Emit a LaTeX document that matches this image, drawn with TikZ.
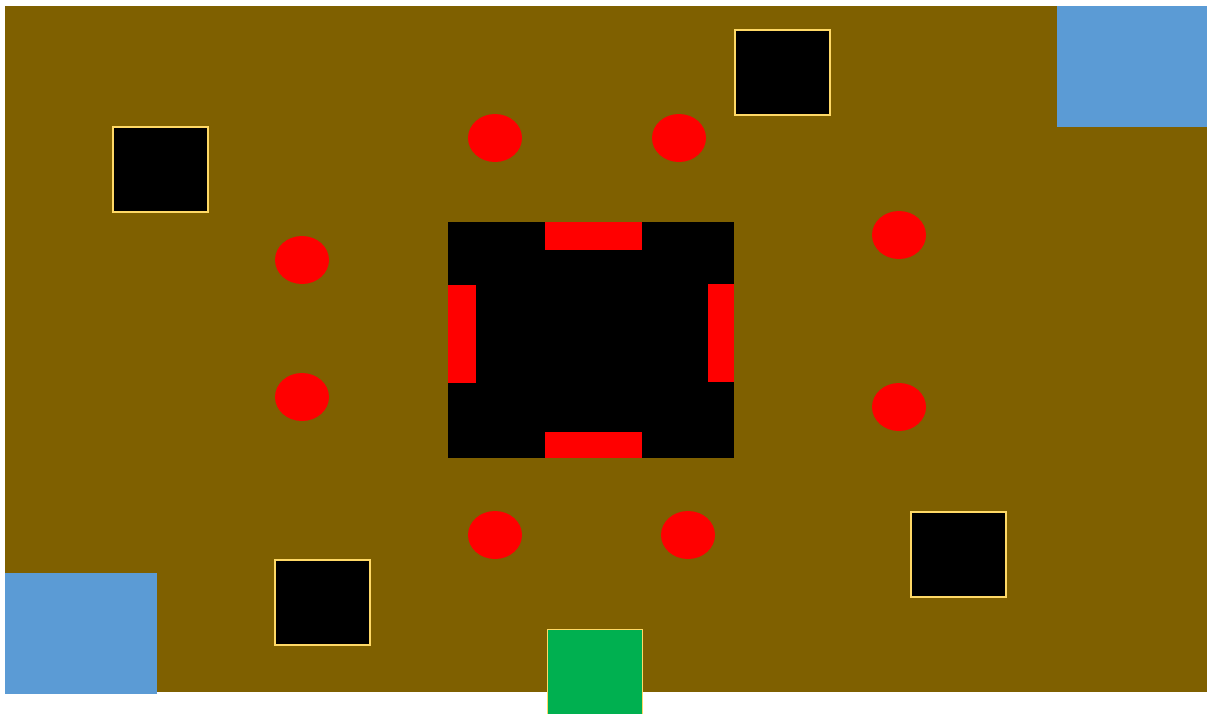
\documentclass[tikz,border=0pt]{standalone}
\definecolor{ground}{HTML}{7F6000}
\definecolor{bluezone}{HTML}{5B9BD5}
\definecolor{greenzone}{HTML}{00B050}
\definecolor{edge}{HTML}{FFD966}
\begin{document}
\begin{tikzpicture}[x=1pt,y=-1pt,
  blk/.style={fill=black,draw=edge,line width=1.2pt},
  dot/.style={fill=red,draw=none},
  bar/.style={fill=red,draw=none}]
\useasboundingbox[fill=white] (0,0) rectangle (1207,713);
% ground
\fill[ground] (5,6) rectangle (1207,692);
% blue corner zones
\fill[bluezone] (1057,6) rectangle (1207,127);
\fill[bluezone] (5,573) rectangle (157,694);
% green entry
\draw[fill=greenzone,draw=edge,line width=0.8pt] (547,629) rectangle (642,715);
% black squares
\draw[blk] (735,30) rectangle (830,115);
\draw[blk] (113,127) rectangle (208,212);
\draw[blk] (275,560) rectangle (370,645);
\draw[blk] (911,512) rectangle (1006,597);
% central block
\fill[black] (448,222) rectangle (734,458);
\fill[bar] (545,222) rectangle (642,250);
\fill[bar] (545,432) rectangle (642,458);
\fill[bar] (448,285) rectangle (476,383);
\fill[bar] (708,284) rectangle (734,382);
% red dots
\foreach \p in {(495,138),(679,138),(302,260),(302,397),(899,235),(899,407),(495,535),(688,535)}
  \fill[red] \p ellipse[x radius=27,y radius=24];
\end{tikzpicture}
\end{document}
